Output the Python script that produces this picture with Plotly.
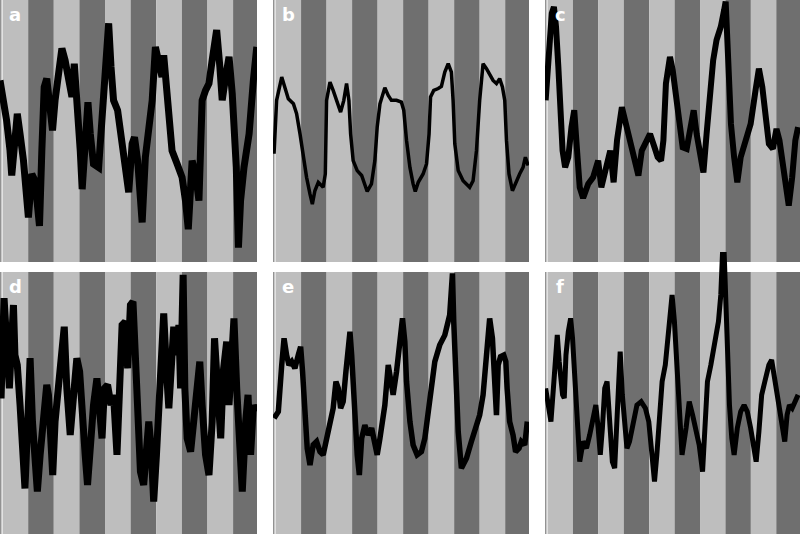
import plotly.graph_objects as go

# ---- data (time in hours, activity in % of panel scale) ----
a_hours = [-1.2, 0.4, 1.9, 3.5, 4.3, 5.8, 6.9, 8.2, 9.8, 12.1, 13.7, 15.2, 17.3, 18.4, 19.5, 20.7, 22.3, 23.4, 24.6, 26.2,
           27.8, 29.3, 30.9, 32.5, 33.6, 34.8, 36.4, 37.3, 38.7, 40.0, 41.1, 42.6, 45.0, 46.1, 47.7, 48.9, 49.7, 50.8, 52.0,
           53.9, 55.5, 57.5, 59.1, 60.7, 61.8, 63.3, 65.4, 66.9, 68.5, 70.1, 71.6, 73.2, 74.7, 75.5, 76.6, 77.9, 79.4, 81.8,
           84.1, 85.7, 87.0, 88.8, 90.4, 92.0, 93.5, 95.1, 96.7, 98.2, 100.3, 101.8, 102.9, 104.5, 106.1, 107.6, 108.7,
           109.5, 110.5, 111.5, 113.1, 115.5, 117.5, 119.1]
a_activity = [69.3, 63.0, 54.0, 42.5, 33.0, 46.4, 56.6, 48.9, 38.7, 17.0, 33.6, 31.0, 13.8, 42.5, 66.8, 70.0, 57.9, 50.2,
              61.7, 74.5, 81.5, 77.0, 69.3, 63.0, 75.7, 63.0, 42.5, 27.8, 48.9, 61.0, 48.9, 37.4, 36.1, 48.9, 61.7, 80.8,
              91.1, 74.5, 61.7, 57.9, 47.6, 36.1, 26.6, 45.1, 47.6, 38.7, 15.1, 40.0, 48.9, 61.7, 82.1, 74.5, 70.6, 78.9,
              69.3, 57.9, 42.5, 37.4, 32.3, 23.4, 12.5, 38.7, 33.6, 23.4, 61.7, 65.5, 68.1, 77.0, 88.5, 74.5, 61.7, 70.6,
              78.3, 64.2, 51.5, 36.1, 5.5, 23.4, 36.1, 48.9, 69.3, 82.1]

b_hours = [-0.7, 0.5, 2.9, 4.4, 6.0, 8.4, 9.9, 11.5, 13.1, 14.6, 16.2, 17.3, 18.5, 20.1, 22.4, 23.4, 24.0, 25.6, 27.1,
           28.7, 30.6, 32.1, 33.4, 34.5, 35.3, 36.5, 38.4, 40.5, 42.0, 43.1, 45.1, 46.7, 47.8, 49.1, 51.4, 53.0, 54.5,
           56.9, 59.2, 60.3, 61.6, 63.2, 64.7, 65.7, 67.1, 69.4, 71.0, 72.2, 72.9, 74.4, 76.5, 78.0, 79.6, 81.2, 82.7,
           83.5, 84.3, 85.9, 88.2, 91.3, 92.9, 94.5, 96.0, 97.6, 99.2, 100.7, 102.3, 103.9, 105.4, 106.7, 107.8, 108.6,
           109.8, 111.4, 113.3, 114.8, 116.4, 117.5, 118.8]
b_activity = [41.3, 61.7, 70.6, 66.8, 62.3, 60.4, 56.6, 48.9, 40.0, 32.3, 25.9, 22.1, 27.2, 30.4, 28.5, 33.6, 61.7, 68.7,
              65.5, 61.7, 57.2, 61.7, 68.1, 61.7, 48.9, 38.7, 34.9, 33.0, 29.8, 26.9, 29.8, 38.7, 51.5, 60.4, 66.5, 63.6,
              61.7, 61.7, 61.0, 57.9, 46.4, 36.1, 29.8, 26.9, 30.4, 33.6, 37.4, 48.9, 63.0, 65.5, 66.2, 67.0, 72.5, 75.7,
              72.5, 61.7, 45.1, 34.9, 31.0, 28.5, 31.0, 42.5, 61.7, 75.7, 73.8, 71.3, 69.3, 68.1, 70.0, 66.8, 61.7, 46.4,
              33.6, 27.2, 31.0, 33.6, 36.1, 40.0, 36.8]

c_hours = [-0.9, 0.4, 2.0, 3.0, 4.0, 5.1, 6.2, 7.1, 8.3, 9.8, 11.3, 12.6, 13.7, 15.2, 16.8, 19.2, 21.5, 23.9, 25.4, 27.8,
           29.6, 31.2, 32.8, 35.1, 36.7, 38.7, 41.1, 42.9, 44.5, 46.5, 48.4, 50.5, 52.0, 53.6, 54.7, 55.9, 57.8, 59.1,
           60.7, 62.2, 63.8, 65.7, 67.2, 69.0, 70.4, 71.9, 73.6, 75.1, 76.6, 78.2, 79.8, 81.8, 83.4, 84.1, 84.9, 85.7,
           86.6, 88.1, 89.6, 91.2, 93.5, 95.9, 98.2, 99.8, 101.4, 102.9, 104.5, 106.4, 108.1, 109.5, 111.5, 113.1, 113.9,
           115.5, 117.0, 118.3]
c_activity = [61.7, 80.8, 94.9, 97.4, 89.8, 74.5, 55.3, 42.5, 36.1, 40.0, 51.5, 57.9, 45.1, 28.5, 24.4, 29.8, 32.3, 38.7,
              28.5, 37.4, 42.5, 30.4, 46.4, 59.1, 54.0, 46.4, 38.7, 33.0, 42.5, 46.4, 48.9, 43.8, 40.0, 38.7, 46.4, 68.1,
              78.3, 73.2, 61.7, 52.7, 43.8, 43.2, 50.2, 57.9, 48.9, 42.5, 34.2, 48.9, 63.0, 77.0, 84.7, 89.8, 96.2, 99.4,
              84.7, 68.1, 52.7, 40.0, 30.4, 40.0, 46.4, 52.7, 65.5, 73.8, 66.8, 55.3, 45.1, 43.2, 50.8, 46.4, 36.1, 28.5,
              21.5, 32.3, 46.4, 51.5]

d_hours = [-1.2, -0.7, 0.7, 1.9, 3.2, 4.3, 5.1, 5.8, 6.9, 8.2, 9.4, 10.5, 12.1, 12.9, 14.0, 15.2, 16.3, 17.6, 19.2, 20.7,
           21.5, 22.3, 23.5, 24.6, 26.2, 27.8, 28.9, 30.1, 31.7, 33.3, 34.8, 36.1, 37.2, 38.7, 39.8, 41.1, 42.6, 44.2,
           45.3, 46.6, 47.7, 49.2, 50.8, 52.0, 53.6, 54.9, 56.0, 57.5, 58.6, 59.9, 61.1, 62.2, 63.3, 64.6, 66.1, 67.4,
           68.5, 69.6, 70.8, 72.1, 73.2, 74.3, 75.5, 76.8, 77.9, 79.4, 80.2, 81.5, 82.6, 83.4, 84.6, 85.4, 86.5, 88.1,
           89.6, 91.2, 92.4, 93.5, 95.1, 96.7, 98.2, 99.3, 100.6, 102.2, 103.4, 105.0, 106.1, 107.3, 108.4, 109.7, 110.8,
           112.3, 113.9, 115.0, 116.2, 117.5, 118.6]
d_activity = [68.3, 51.8, 90.0, 68.3, 55.6, 74.7, 87.4, 68.3, 64.5, 49.2, 35.3, 17.4, 49.2, 67.1, 42.9, 23.8, 16.2, 30.2,
              42.9, 56.9, 53.1, 32.7, 22.5, 42.9, 55.6, 68.3, 79.1, 55.6, 37.8, 53.1, 67.1, 62.0, 42.9, 30.2, 18.7, 36.5,
              49.2, 59.4, 49.2, 36.5, 55.6, 56.9, 49.2, 53.1, 30.2, 55.6, 79.8, 81.1, 63.2, 87.4, 88.7, 68.3, 42.9, 23.8,
              18.7, 30.2, 42.9, 32.7, 12.4, 30.2, 49.2, 68.3, 84.2, 62.0, 48.0, 68.3, 79.1, 68.3, 79.8, 55.6, 98.9, 55.6,
              36.5, 31.4, 42.9, 53.1, 65.8, 49.2, 30.2, 22.5, 42.9, 74.7, 55.6, 36.5, 62.0, 73.4, 49.2, 62.0, 82.3, 55.6,
              36.5, 16.2, 42.9, 53.1, 30.2, 49.2, 46.7]

e_hours = [-0.7, 1.3, 2.9, 4.0, 5.2, 6.3, 7.6, 9.1, 10.7, 11.8, 12.7, 13.8, 14.9, 16.2, 17.7, 19.3, 20.9, 22.4, 24.0,
           25.6, 27.1, 28.4, 29.5, 30.6, 31.8, 33.1, 34.2, 35.0, 35.8, 36.5, 37.3, 38.4, 39.4, 40.5, 42.0, 43.6, 45.2,
           46.7, 47.8, 49.1, 51.4, 53.0, 54.1, 55.3, 56.9, 58.5, 59.7, 60.8, 61.6, 63.2, 64.7, 66.6, 68.6, 70.2, 71.8,
           73.3, 74.9, 77.2, 79.6, 81.9, 83.2, 83.8, 84.8, 85.9, 87.4, 89.8, 92.1, 94.5, 96.0, 97.6, 99.2, 100.7, 102.0,
           103.1, 103.9, 104.7, 105.8, 107.3, 108.3, 108.9, 110.1, 111.7, 112.9, 114.5, 115.6, 117.2, 118.4]
e_activity = [44.2, 46.7, 64.5, 74.7, 68.3, 64.5, 65.8, 63.2, 68.3, 71.5, 62.0, 49.2, 32.7, 26.3, 34.0, 35.3, 31.4, 30.2,
              36.5, 42.9, 48.0, 58.2, 55.6, 48.0, 50.5, 62.0, 73.4, 77.2, 68.3, 55.6, 42.9, 30.2, 22.5, 36.5, 41.6, 37.8,
              40.4, 32.7, 30.2, 36.5, 49.2, 64.5, 59.4, 53.1, 62.0, 74.7, 82.3, 73.4, 58.2, 42.9, 34.0, 30.2, 31.4, 36.5,
              45.4, 55.6, 65.8, 72.1, 75.9, 83.6, 99.5, 81.1, 55.6, 39.1, 25.1, 28.9, 35.3, 41.6, 45.4, 53.1, 65.8, 82.3,
              74.7, 58.2, 45.4, 64.5, 67.7, 68.3, 65.8, 55.6, 42.9, 37.8, 31.4, 32.7, 35.3, 34.0, 42.9]

f_hours = [-0.9, 0.4, 1.6, 3.0, 4.0, 4.6, 5.5, 6.2, 7.1, 7.9, 8.7, 9.8, 10.9, 11.8, 12.6, 13.7, 14.5, 15.2, 16.8, 18.4,
           19.9, 21.5, 22.8, 23.9, 24.9, 25.9, 27.0, 28.1, 29.3, 30.6, 31.7, 32.8, 33.7, 34.3, 35.3, 36.4, 37.5, 38.7,
           40.3, 42.2, 44.2, 46.2, 47.8, 49.4, 50.5, 51.6, 52.8, 54.1, 55.6, 56.7, 57.8, 58.8, 59.9, 60.7, 61.9, 63.5,
           65.4, 66.9, 68.5, 70.0, 71.6, 73.2, 74.3, 75.5, 77.1, 78.7, 80.7, 81.8, 82.3, 82.6, 83.4, 83.8, 84.5, 85.1,
           85.9, 87.0, 88.1, 89.6, 91.2, 92.8, 94.3, 95.9, 97.5, 98.5, 99.8, 101.1, 102.6, 104.5, 105.8, 106.9, 108.0,
           109.2, 110.8, 112.0, 113.1, 114.2, 115.5, 117.0, 118.3]
f_activity = [55.6, 49.2, 42.9, 58.2, 70.9, 76.0, 65.8, 58.2, 53.1, 51.8, 68.3, 77.2, 82.3, 74.7, 62.0, 49.2, 35.3, 27.6,
              35.3, 32.7, 37.8, 45.4, 49.2, 40.4, 30.2, 40.4, 55.6, 58.2, 42.9, 27.6, 25.1, 42.9, 62.0, 69.6, 53.1, 40.4,
              32.7, 35.3, 42.9, 49.2, 50.5, 48.0, 42.9, 30.2, 20.0, 30.2, 42.9, 58.2, 64.5, 74.7, 87.4, 91.2, 81.1, 68.3,
              49.2, 30.2, 40.4, 50.5, 45.4, 40.4, 34.0, 23.8, 42.9, 58.2, 64.5, 72.1, 81.1, 91.2, 101.4, 106.9, 106.9,
              98.9, 81.1, 62.0, 49.2, 36.5, 30.2, 40.4, 46.7, 49.2, 46.7, 40.4, 32.7, 27.6, 39.1, 53.1, 58.2, 64.5, 66.4,
              60.7, 55.6, 49.2, 39.1, 35.3, 45.4, 49.2, 48.0, 50.5, 53.1]

panel_labels = ["a", "b", "c", "d", "e", "f"]
cycle_hours = 12          # length of each light / dark phase
n_phases = 10

# ---- styling / layout ----
LIGHT = "#bebebe"
DARK = "#6f6f6f"
EDGE = "#929292"
XR = [-1.2, 119.2]
col_dom = [[0.0, 0.32125], [0.34125, 0.66125], [0.68125, 1.0]]
top_dom = [0.5094, 1.0]
bot_dom = [0.0, 0.4906]
f_dom = [0.0, 0.5281]

series = [(a_hours, a_activity), (b_hours, b_activity), (c_hours, c_activity),
          (d_hours, d_activity), (e_hours, e_activity), (f_hours, f_activity)]
widths = [7, 3.5, 6, 7, 5.5, 5]

fig = go.Figure()
layout_axes = {}
shapes = []
annotations = []
for i, (hx, hy) in enumerate(series):
    n = "" if i == 0 else str(i + 1)
    col = i % 3
    row = i // 3
    if i == 5:
        ydom, yr = f_dom, [0, 107.6]
    elif row == 0:
        ydom, yr = top_dom, [0, 100]
    else:
        ydom, yr = bot_dom, [0, 100]
    ax = dict(showgrid=False, zeroline=False, showticklabels=False, ticks="", showline=False, fixedrange=True)
    layout_axes["xaxis" + n] = dict(ax, domain=col_dom[col], range=XR, anchor="y" + n)
    layout_axes["yaxis" + n] = dict(ax, domain=ydom, range=yr, anchor="x" + n)
    for k in range(n_phases):
        x0 = max(k * cycle_hours, XR[0])
        x1 = min((k + 1) * cycle_hours, XR[1])
        shapes.append(dict(type="rect", xref="x" + n, yref="y" + n, x0=x0, x1=x1, y0=0, y1=100,
                           fillcolor=LIGHT if k % 2 == 0 else DARK, line=dict(width=0), layer="below"))
    # thin darker edge at the left side of each panel
    shapes.append(dict(type="line", xref="x" + n, yref="y" + n, x0=XR[0] + 0.35, x1=XR[0] + 0.35, y0=0, y1=100,
                       line=dict(color=EDGE, width=1.5), layer="below"))
    fig.add_trace(go.Scatter(x=hx, y=hy, mode="lines", xaxis="x" + n, yaxis="y" + n,
                             line=dict(color="black", width=widths[i]), showlegend=False, hoverinfo="skip"))
    annotations.append(dict(text="<b>%s</b>" % panel_labels[i], xref="x" + n, yref="y" + n,
                            x=XR[0] + 0.06 * (XR[1] - XR[0]), y=94.5, showarrow=False,
                            font=dict(family="DejaVu Sans", size=18, color="white"),
                            xanchor="center", yanchor="middle"))

fig.update_layout(width=800, height=534, margin=dict(l=0, r=0, t=0, b=0),
                  paper_bgcolor="white", plot_bgcolor="rgba(0,0,0,0)",
                  shapes=shapes, annotations=annotations, **layout_axes)
fig.write_html("out.html", config={"displayModeBar": False},
               post_script="document.body.style.margin='0';document.body.style.padding='0';"
                           "document.body.style.overflow='hidden';")
